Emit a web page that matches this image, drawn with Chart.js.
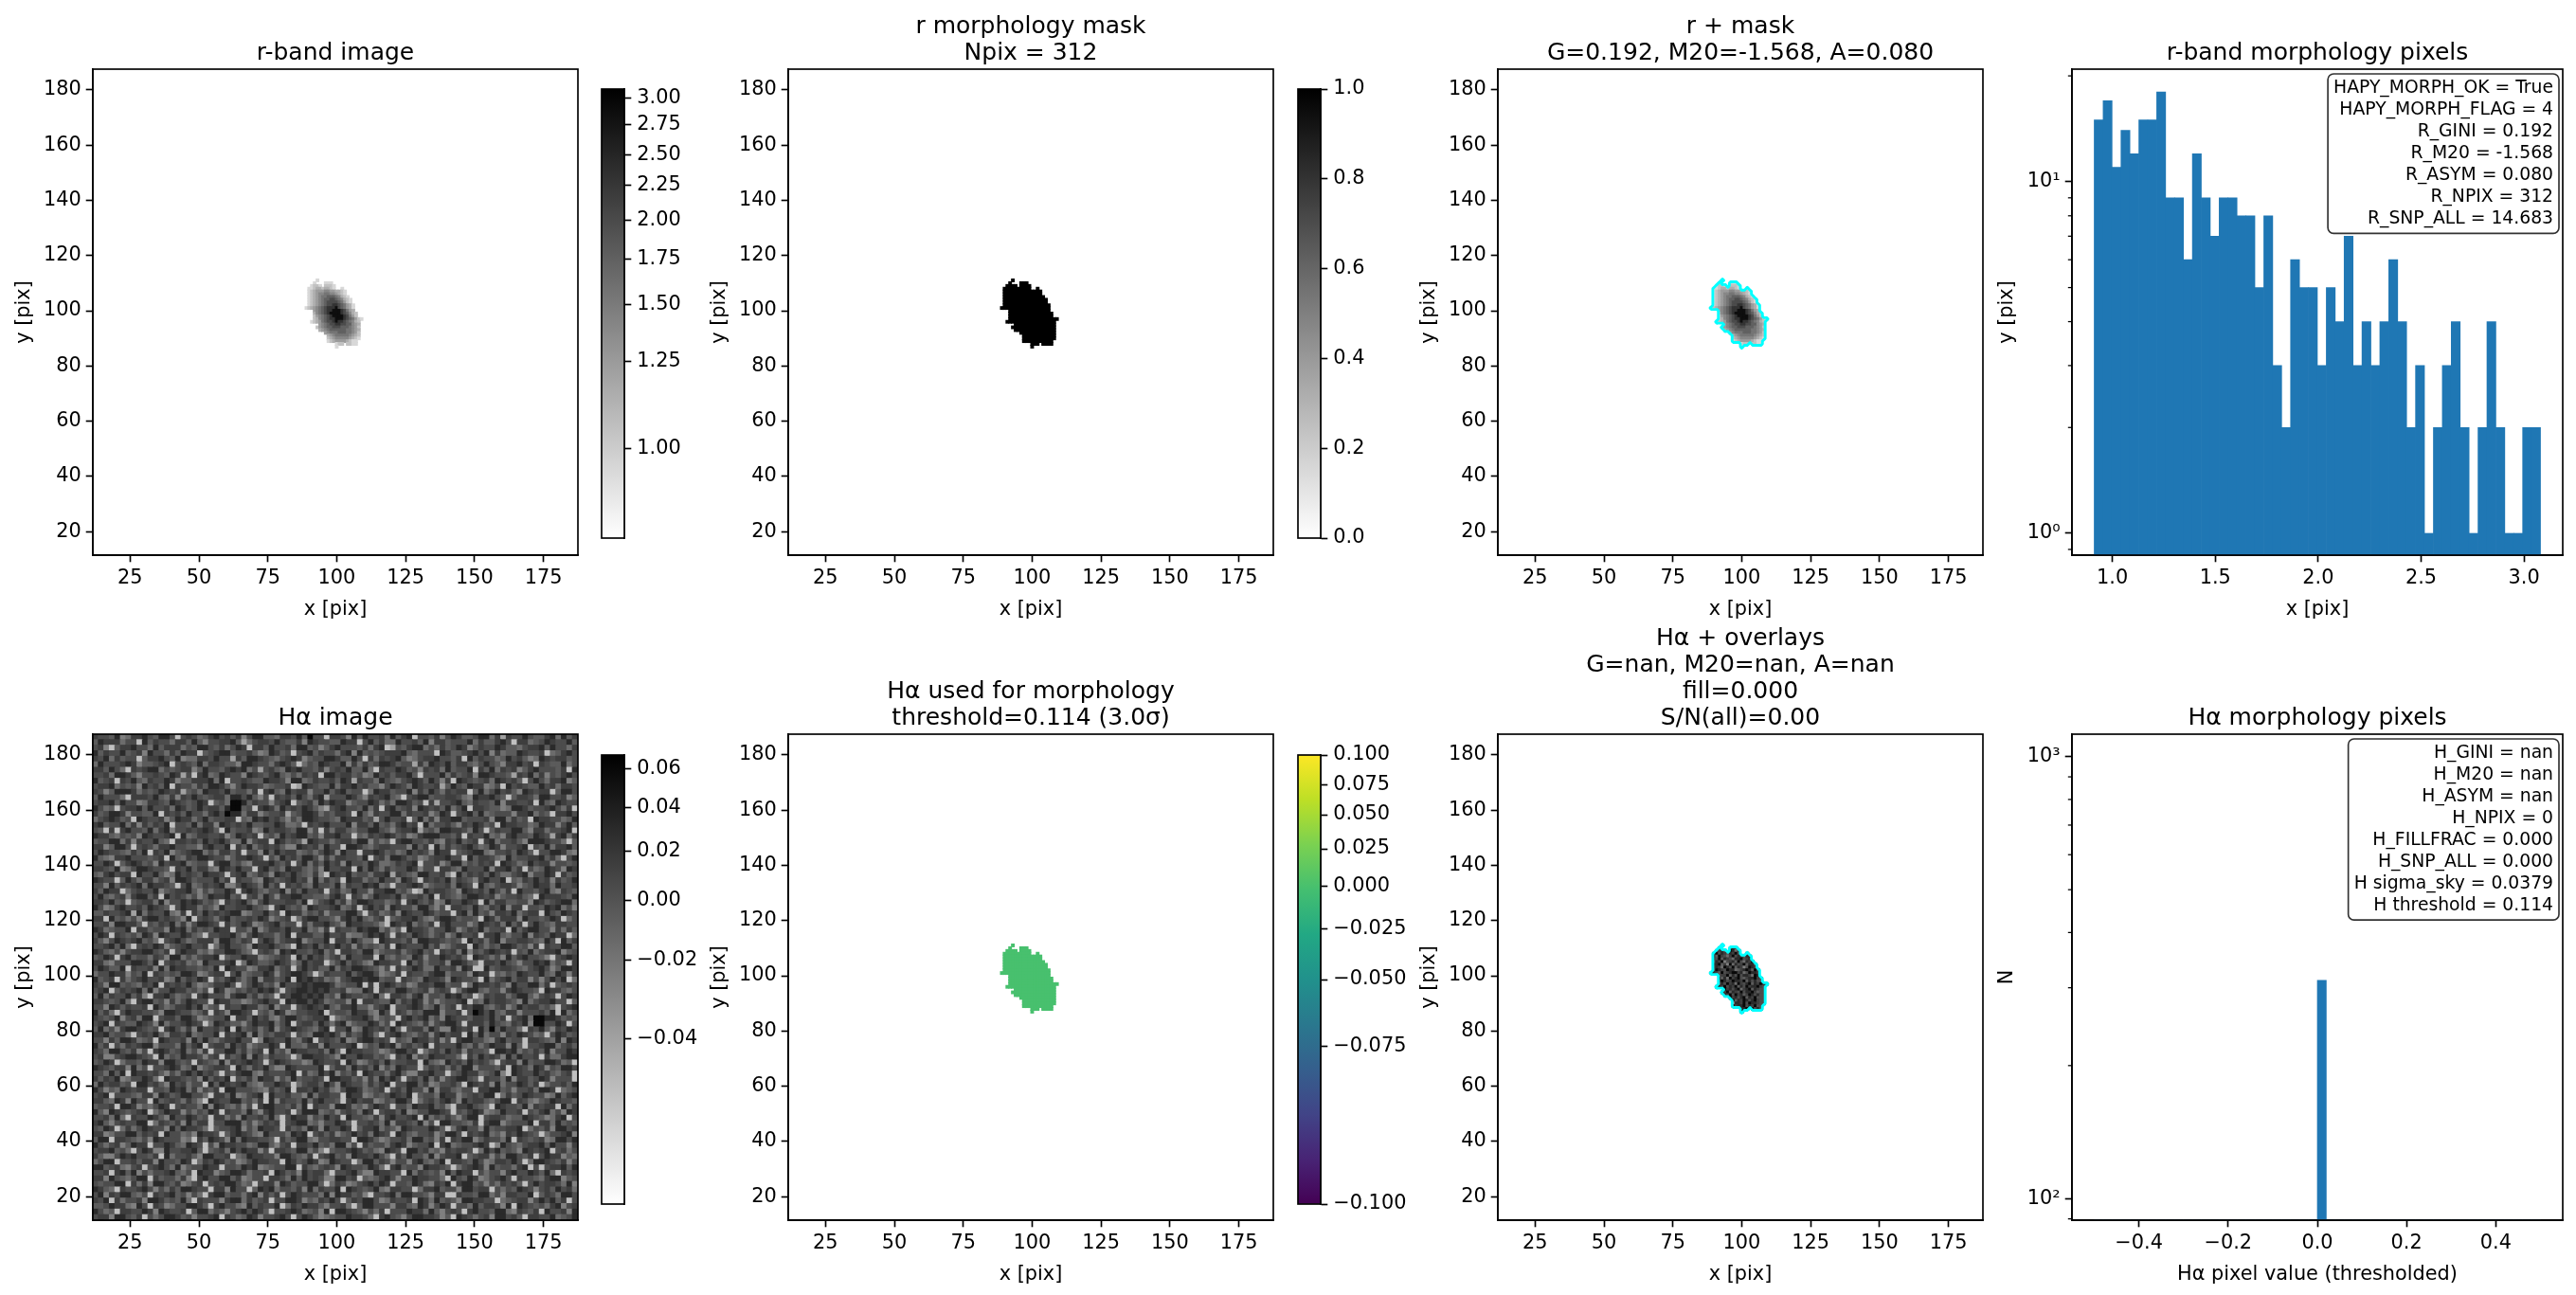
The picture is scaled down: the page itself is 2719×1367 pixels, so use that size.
<!DOCTYPE html>
<html>
<head>
<meta charset="utf-8">
<script src="https://cdn.jsdelivr.net/npm/chart.js@4"></script>
<style>
html, body { margin: 0; padding: 0; background: #fff; overflow: hidden; width: 2719px; height: 1367px; }
canvas { position: absolute; }
</style>
</head>
<body>
<script>
// histogram counts
const rHistCounts = [15,17,11,14,12,15,15,18,9,9,6,12,9,7,9,9,8,8,5,8,3,2,6,5,5,3,5,4,7,3,4,3,4,6,4,2,3,1,2,3,4,2,1,2,4,2,1,1,2,2];
const rHistStart = 0.912;
const rHistBinWidth = 0.04336;
const haHistCounts = [0,0,0,0,0,0,0,0,0,0,0,0,0,0,0,0,0,0,0,0,0,0,0,0,0,312,0,0,0,0,0,0,0,0,0,0,0,0,0,0,0,0,0,0,0,0,0,0,0,0];
const haHistStart = -0.5;
const haHistBinWidth = 0.02;

// tick labels
const imageXTicks = [25,50,75,100,125,150,175];
const imageYTicks = [20,40,60,80,100,120,140,160,180];
const rHistXTicks = [1.0,1.5,2.0,2.5,3.0];
const haHistXTicks = [-0.4,-0.2,0.0,0.2,0.4];

// colourbar ticks: value, position along the bar (0 bottom, 1 top)
const rCbarLabels = ['1.00','1.25','1.50','1.75','2.00','2.25','2.50','2.75','3.00'];
const rCbarValues = [1.0,1.25,1.5,1.75,2.0,2.25,2.5,2.75,3.0];
const rCbarPos = [0.2,0.393,0.52,0.621,0.707,0.785,0.854,0.921,0.98];
const maskCbarLabels = ['0.0','0.2','0.4','0.6','0.8','1.0'];
const maskCbarPos = [0,0.2,0.4,0.6,0.8,1];
const haCbarLabels = ['−0.04','−0.02','0.00','0.02','0.04','0.06'];
const haCbarValues = [-0.04,-0.02,0,0.02,0.04,0.06];
const haCbarPos = [0.369,0.544,0.676,0.786,0.883,0.97];
const usedCbarLabels = ['−0.100','−0.075','−0.050','−0.025','0.000','0.025','0.050','0.075','0.100'];
const usedCbarPos = [0,0.352,0.5,0.612,0.707,0.791,0.867,0.934,1];

// r-band source pixels, one char per pixel, rows from y=111 down to y=87, first column x=89.
// The digit indexes rLevels; a space is outside the morphology mask.
const rLevels = [0.95,1.05,1.15,1.25,1.4,1.55,1.75,2.0,2.3,2.85];
const rBandRows = [
'    0',
'   0   000',
'  0110 1110',
' 0012212210  0',
' 01233344332210',
' 01234455443210',
' 012345566654210',
' 0123456677654210',
' 0123456777765310',
' 01234567788765320',
'012345678889765320',
'   345678899987532',
'   2456789999876421',
'   1345678999987531',
'   124567889998765310',
'  012356778988765421',
'     345677887766432',
'    1345667776665431',
'     234566666655432',
'       3455566655431',
'        234555554321',
'        123444443210',
'        01233332100',
'           011 1100',
'           0'
];

// Halpha pixels, same layout as rBandRows; digit indexes haLevels
const haLevels = [-0.05,-0.04,-0.035,-0.025,-0.015,-0.005,0.005,0.015,0.03,0.06];
const haMaskRows = [
'666668666666666666666',
'666786668766666666666',
'665784698476666666666',
'669687587968866666666',
'685976479687588666666',
'676958764889678666666',
'658793678596487966666',
'678957394867958866666',
'668749869587369876666',
'659876988457898596666',
'487596789978469887666',
'666677958696887498666',
'666858497896578897666',
'666798679887958686666',
'666586978497689587986',
'665879687958697889766',
'666669786894789587666',
'666687958769688975666',
'666668796978579868666',
'666666697868958796666',
'666666669587986897666',
'666666662887969887666',
'666666669788968796666',
'666666666668898968666',
'666666666669666666666'
];

// Halpha sky field as estimated 2x2-pixel blocks, rows from y=186.5 down, first column x=12.5.
// Hand-typed approximation of the speckle, not a pixel-exact reading; digit indexes haLevels.
const haFieldRows = [
'76658347786 58860676457 86757368855 47768596607 76385866748 57806657368 75568847176 68655784857',
'58777466085 76647758536 67785146776 86557387665 58770685744 86675837756 66847557860 77456876685',
'67305778664 85777465886 57468707758 66748856357 86665747801 65788464756 87357668755 46778586647',
'85766856738 66475877056 78856675348 75606785766 47838565677 78546660875 56786837455 87667045786',
'76847566057 78658344776 86617588765 46787356688 75586074767 85346778665 70857664586 75348767756',
'48666787355 67806765847 76553887664 78750465876 68374756887 56617487685 77546865377 86707655846',
'77586407678 84656773586 65787846167 54878665736 76855840766 87563767485 66807584767 35786665708',
'66748875366 76587160784 58766387657 85464767088 67756348675 77850666847 56738876651 76847365786',
'85670768547 66873557778 48066765587 76388457667 58717664865 46787586370 87656748767 50686477835',
'67784656386 75807664758 87536877645 66701876558 47786755368 76487667158 65877346086 76558674776',
'76358887465 68767156487 76856647078 54867736685 78566048775 66837586476 77058468675 38767705886',
'58666407776 85473768656 77488685360 76758647816 66875376785 40678856677 64387786505 77648866735',
'67785866347 76587656870 56499857663 67805674868 77356687464 88756071667 85476658377 66708548766',
'86450677858 66748756867 75899560787 48676875316 78665847078 56738767584 68077655348 87566786470',
'75688736655 80767586647 86988477356 67156887465 77608537668 84766735870 67858456663 77846507786',
'46787560876 67358774685 66770548786 75364887665 48777561686 67058473778 85666738847 56087766458',
'78566847375 76806658477 38767685566 87445076786 66837758564 78670846675 37687560877 66458773685',
'65070786658 47836676787 50856673486 77658836074 77546688653 67781564887 76486057668 85377466780',
'87754656387 66780845776 67358767056 48678856377 86605476787 56347888665 70766845378 66587617847',
'56688473766 85407767586 78644836770 87565187664 67758836450 78866574376 85670784667 53888766405',
'77358860676 47786655378 66807584676 75338767486 60887546776 66385708475 67864587366 78065847785',
'68766547580 76835678846 47757066385 86774564687 38660778756 45867638770 56788436675 87506688743',
'85437786665 67085476887 66357787606 48675886374 77665806748 87563467786 60857764385 66778574068',
'66870578756 38677845660 78856437778 65706847586 73866587445 76780667358 84657670876 45867736656',
'77658346887 66507685774 38768660785 64877546386 67708586475 66873660775 48666837785 70645876387',
'54786770866 85348676587 76067845763 87686547308 76856647781 76548866730 85767586446 78366870756',
'87660586477 46738875666 85707664387 56786738475 60877465866 38750767684 76537866805 47686737568',
'66385767848 77650684576 78336876485 70767548665 83766878450 66787356674 87608546776 35687748667',
'75877046766 83567785364 66870787546 68375866706 74586637788 56401867765 38767586470 86657843765',
'68546737885 70867646358 77856067486 37788665547 86076358776 84667580765 46887673566 75408777658',
'77685605677 48366878756 40767853686 66775804678 57368876645 70786573486 68760847755 66387567884',
'86347866758 76506877465 38667786540 78656387667 84570686738 76648853607 76585476837 70665878463',
'55766781847 66843707586 76788346685 60877465736 66885067457 38766875660 78485637768 46770865876',
'77085646378 86765380676 47856676873 56704788665 37868546705 67786436887 56650874777 38665687046',
'66738877506 57684736887 60756873467 85660747786 53877665308 76846570786 66358767485 70686547766',
'87456680775 66387847565 87706648357 76866845370 76658788463 50877646687 35768466708 57886637475',
'68707656487 38766875406 67785368766 46807775586 67344687860 76587646735 86670778546 68376587704',
'75368767856 40678645777 38865760687 46778356680 77586440876 65738877656 50867478366 77654860857',
'66785840676 87356786670 47866538778 65408768576 86737565470 87666857346 77086465887 56370766885',
'87546367788 65706877453 66887540676 38786657846 07765883566 74678560767 48365787670 65846778356',
'56870785664 76388464677 80566877345 67608586746 73866770854 65487366876 75087646385 78665306787',
'77436668875 80676745386 66780487556 87635867704 68576438776 60857466738 87540776865 36687846507',
'68755807667 38487766565 80876634778 46706867558 47688765360 75687448667 38700856776 54678635887',
'46687736580 76565887346 77068456687 36788750476 66857886345 70766578846 66387705465 87668548737',
'85670746786 67348576870 65786468377 56808786745 36788788566 07654877638 76650846785 77363686804',
'76388565476 80767685345 77860468756 38667878887 45668070787 56347768856 60487767538 66884705676',
'67805767848 36687756460 87346576878 50678878786 67344870765 88656736760 47885466378 76650877546',
'58476685730 77864560786 66378857465 07688787856 38766568407 76478366587 85603767746 88536760687',
'77656840788 56374687660 87755346786 60878868745 66380776558 47687363566 78054867765 38467786605',
'66387576670 86457786835 60766877458 36606787685 47785536780 66787458467 07688546735 86775640678',
'85740687766 53887664570 76388760564 87346677805 66587743860 76465888366 70698685477 36667580846',
'76568367488 06775886345 66807758674 36886567780 45677863565 07867846387 66577685706 78499887565',
'67807655876 38466787604 87655368778 46806775864 78356687460 87654736788 60777586547 68399668706',
'58463788765 60786473866 75808567468 36787654780 66834876758 50677486338 76708595866 40768537687',
'77856640676 85377684566 80767838465 77606548878 63756874067 86546737867 70858466376 87645068756',
'66375887456 08766738585 46778660387 66854780676 58347886760 65487757360 78866437856 60776548387',
'85706476788 36664857806 77486735668 70855477386 66780465878 36756807666 85474687738 50667884675',
'76488657360 78756846370 66885746708 56387766748 50877665346 88670467586 73766508878 46575836687',
'67336788765 08465877636 70756838647 66504887765 38668775640 76836587766 40758676385 86670744788',
'56870466587 73886560765 48376787606 87655348766 70863467585 66770854386 75867640677 38566887450',
'87657738460 66787458356 77608647685 33876666805 77486758364 87660576747 58836665708 76487365886',
'66485808776 75364786867 50657884376 66780745868 36570876647 85337786605 68774568308 76686754670',
'75768346687 40877656385 76806574877 36485667608 87756374868 60675847367 88650766483 77568736660',
'48677560886 75386746608 58767854366 87604677586 38766475780 66885734667 50876738466 87570466758',
'86354876770 66587847365 70886665437 56807768674 36887456706 75866383775 46607788563 66748870456',
'67806665477 38756886640 77583467808 66755384776 60877346568 76805664877 35676880475 68766348578',
'77548738660 85676475308 76688564708 37665847866 50786773465 88604675786 38677546880 76435687665',
'56670887354 68706766483 87546360788 66574807663 88745368760 66487785630 77865408766 58376770847',
'85387656780 46877364658 70766485378 66705888456 36764870677 58346688760 65787345866 70657846387',
'66748407668 75386687560 77463866758 40687736586 70866547378 66780846575 36880677645 58765347806',
'78536766880 47657385770 66888463576 70678845366 87506676483 77658360886 65470788356 66807748565',
'65870474687 66385877640 56678364877 60756487386 68705778465 38766687504 78663856677 80465738867',
'77346688576 70866453877 60578764386 66487806757 35686748760 87546673588 60767845376 87650466783',
'58807765463 87666340758 76384877665 07568843667 76608875346 67488563707 68835766480 76567348868',
'86467358770 66875487606 38776645885 36707768564 88360756647 87356680784 56678703865 46778586637',
'67785640687 33866778505 67486877360 77658846305 66787564387 60886745376 77604868565 38767806746',
'75336878665 70846675388 66704587766 38865470678 56387768640 75866483677 80567736488 65706877354',
'46880667577 38665870476 87563468776 60875687348 76604885763 66378546807 76586347768 60488765736',
'88567436706 78648356687 70665878345 66880754676 38766587407 85663877650 46787385664 78060677858',
'66707858364 66785460877 35688746670 87563867740 66785338776 60847656385 87706466378 66875840767',
'77386546880 75664730786 68857346607 76485867633 88670545786 36687766408 65873467860 76654788356',
'65668807473 88657346706 76886450677 38756688504 76346786870 66587437680 78856364767 50686776483',
'87540766786 36475887660 77386605878 46657384766 80876568437 76604778566 38867706465 87636758674',
'68376885460 76785636407 88566478375 70687666483 87756306678 48866537700 76658846377 66805764886',
'76807466738 87565840766 63788475670 66887354768 60576886347 66708748565 38877660456 77368685706',
'55687743860 76346688750 78664385766 80476877536 67405886663 77548736870 66485776380 87656478367',
'86450776687 38766705884 65367868750 66787456380 88765364706 66877485367 60786658843 76570866738',
'67738865706 46887563667 80764587366 78606875345 66877640786 53688776350 87646738867 50776684568',
'78566340878 66705487386 76680855743 66387760584 76658347806 77463868765 30687758664 78356067886'
];

const viridisStops = ['#440154','#482475','#414487','#355f8d','#2a788e','#21918c','#22a884','#44bf70','#7ad151','#bddf26','#fde725'];

// axes boxes in page pixels
const colLeft = [98, 832, 1581, 2187];
const colWidth = [512, 512, 512, 518];
const rowTop = [73, 775];
const rowHeight = 513;
const sidePad = 90;
const bottomPad = 70;
const black = '#000';

Chart.defaults.font.family = '"DejaVu Sans"';
Chart.defaults.color = black;

// piecewise colour normalisation taken from the colourbar ticks
function interp(v, xs, ys) {
    if (v <= xs[0]) return ys[0];
    for (let i = 1; i < xs.length; i++) {
        if (v <= xs[i]) return ys[i - 1] + (v - xs[i - 1]) / (xs[i] - xs[i - 1]) * (ys[i] - ys[i - 1]);
    }
    return ys[ys.length - 1];
}
const rNorm = v => interp(v, [0.78].concat(rCbarValues, [3.08]), [0].concat(rCbarPos, [1]));
const haNorm = v => interp(v, [-0.07].concat(haCbarValues, [0.068]), [0].concat(haCbarPos, [1]));
function gray(n) {
    const g = Math.round(255 * (1 - n));
    return `rgb(${g},${g},${g})`;
}
function hexToRgb(h) {
    return [1, 3, 5].map(i => parseInt(h.substr(i, 2), 16));
}
function viridisAt(n) {
    const p = n * (viridisStops.length - 1);
    const i = Math.min(Math.floor(p), viridisStops.length - 2);
    const a = hexToRgb(viridisStops[i]);
    const b = hexToRgb(viridisStops[i + 1]);
    const c = a.map((v, k) => Math.round(v + (b[k] - v) * (p - i)));
    return `rgb(${c[0]},${c[1]},${c[2]})`;
}

function sourceCells(colorOf) {
    const pts = [];
    const colors = [];
    rBandRows.forEach((row, j) => {
        for (let i = 0; i < row.length; i++) {
            if (row[i] === ' ') continue;
            pts.push({ x: 89 + i, y: 111 - j });
            colors.push(colorOf(row[i], i, j));
        }
    });
    return { pts, colors };
}

function cellDataset(cells, radius) {
    return {
        data: cells.pts,
        pointStyle: 'rect',
        pointRadius: radius,
        pointBorderWidth: 0,
        pointBackgroundColor: cells.colors,
        showLine: false,
        clip: 0
    };
}

// marching squares round the mask, at the half level
function maskContour() {
    const m = (x, y) => {
        const row = rBandRows[111 - y];
        const c = row ? row[x - 89] : undefined;
        return c !== undefined && c !== ' ';
    };
    const out = [];
    for (let x = 87; x <= 111; x++) {
        for (let y = 85; y <= 112; y++) {
            const a = m(x, y), b = m(x + 1, y), c = m(x + 1, y + 1), d = m(x, y + 1);
            const mids = [];
            if (a !== b) mids.push({ x: x + 0.5, y: y });
            if (b !== c) mids.push({ x: x + 1, y: y + 0.5 });
            if (c !== d) mids.push({ x: x + 0.5, y: y + 1 });
            if (d !== a) mids.push({ x: x, y: y + 0.5 });
            for (let k = 0; k + 1 < mids.length; k += 2) {
                out.push(mids[k], mids[k + 1], { x: null, y: null });
            }
        }
    }
    return out;
}

function contourDataset() {
    return {
        data: maskContour(),
        showLine: true,
        spanGaps: false,
        pointRadius: 0,
        borderColor: '#00ffff',
        borderWidth: 2.9,
        borderCapStyle: 'round',
        tension: 0,
        clip: 0
    };
}

// spines, minor log ticks and the stats box
const panelExtras = {
    id: 'panelExtras',
    afterDraw(chart, args, opts) {
        const ctx = chart.ctx;
        const a = chart.chartArea;
        ctx.save();
        ctx.strokeStyle = black;
        ctx.lineWidth = 1.67;
        ctx.strokeRect(a.left, a.top, a.right - a.left, a.bottom - a.top);
        if (opts.minor) {
            ctx.lineWidth = 1.25;
            opts.minor.forEach(v => {
                const y = chart.scales.y.getPixelForValue(v);
                ctx.beginPath();
                ctx.moveTo(a.left, y);
                ctx.lineTo(a.left - 4.2, y);
                ctx.stroke();
            });
        }
        if (opts.box) {
            const lh = 22.9;
            ctx.font = '18.75px "DejaVu Sans"';
            const tw = Math.max(...opts.box.map(s => ctx.measureText(s).width));
            const right = a.right - 4;
            const w = tw + 12;
            const h = opts.box.length * lh + 8;
            const top = a.top + 5;
            ctx.beginPath();
            ctx.roundRect(right - w, top, w, h, 6);
            ctx.fillStyle = '#fff';
            ctx.fill();
            ctx.strokeStyle = '#333';
            ctx.lineWidth = 1.67;
            ctx.stroke();
            ctx.fillStyle = black;
            ctx.textAlign = 'right';
            ctx.textBaseline = 'middle';
            opts.box.forEach((s, i) => ctx.fillText(s, right - 6, top + 4 + lh * (i + 0.5)));
        }
        ctx.restore();
    }
};

function addCanvas(left, top, w, h) {
    const c = document.createElement('canvas');
    c.width = w;
    c.height = h;
    c.style.left = left + 'px';
    c.style.top = top + 'px';
    c.style.width = w + 'px';
    c.style.height = h + 'px';
    document.body.appendChild(c);
    return c.getContext('2d');
}

function gridOpts() {
    return { display: true, drawOnChartArea: false, drawTicks: true, tickLength: 7.3, tickWidth: 1.67, tickColor: black };
}

function tickFont() {
    return { size: 20.83 };
}

function axis(cfg, fitKey, fitSize, labelPad) {
    return {
        type: cfg.type || 'linear',
        min: cfg.min,
        max: cfg.max,
        bounds: 'data',
        offset: false,
        grid: Object.assign(gridOpts(), { offset: false }),
        border: { display: true, color: black, width: 1.67 },
        title: { display: true, text: cfg.label, color: black, font: { size: 20.83 }, padding: { top: labelPad, bottom: 0 } },
        ticks: {
            autoSkip: false, maxRotation: 0, minRotation: 0, padding: 5, color: black, font: tickFont(),
            callback: cfg.format
        },
        afterBuildTicks: s => { s.ticks = cfg.ticks.map(v => ({ value: v })); },
        afterFit: s => { s[fitKey] = fitSize; }
    };
}

function panel(col, row, title, type, datasets, xCfg, yCfg, extras, yLabelPad) {
    const w = colWidth[col];
    const padTop = row === 0 ? rowTop[0] : 135;
    const ctx = addCanvas(colLeft[col] - sidePad, rowTop[row] - padTop, w + 2 * sidePad, padTop + rowHeight + bottomPad);
    const lines = Array.isArray(title) ? title : [title];
    new Chart(ctx, {
        type: type,
        data: { datasets: datasets },
        options: {
            responsive: false,
            animation: false,
            events: [],
            devicePixelRatio: 1,
            plugins: {
                legend: { display: false },
                tooltip: { enabled: false },
                title: {
                    display: true, text: lines, color: black,
                    font: { size: 25, weight: 'normal', lineHeight: 1.12 },
                    padding: { top: padTop - lines.length * 28 - 2.5, bottom: 2.5 }
                },
                panelExtras: extras || {}
            },
            scales: {
                x: axis(xCfg, 'height', bottomPad, 10.5),
                y: axis(yCfg, 'width', sidePad, yLabelPad),
                // empty box on the right so the title centres on the axes
                rightGap: {
                    axis: 'y', position: 'right', display: true,
                    grid: { display: false }, border: { display: false }, ticks: { display: false },
                    afterFit: s => { s.width = sidePad; }
                }
            }
        },
        plugins: [panelExtras]
    });
}

function colorbar(left, right, top, bottom, stops, positions, labels) {
    const ctx = addCanvas(left - 30, top - 30, right - left + 130, bottom - top + 60);
    new Chart(ctx, {
        type: 'bar',
        data: {
            labels: ['c'],
            datasets: [{
                data: [[0, 1]],
                categoryPercentage: 1,
                barPercentage: 1,
                borderWidth: 0,
                backgroundColor: c => {
                    const a = c.chart.chartArea;
                    if (!a) return '#888';
                    const g = c.chart.ctx.createLinearGradient(0, a.bottom, 0, a.top);
                    stops.forEach((s, i) => g.addColorStop(i / (stops.length - 1), s));
                    return g;
                }
            }]
        },
        options: {
            responsive: false,
            animation: false,
            events: [],
            devicePixelRatio: 1,
            layout: { padding: { left: 30, right: 0, top: 30, bottom: 30 } },
            plugins: { legend: { display: false }, tooltip: { enabled: false }, panelExtras: {} },
            scales: {
                x: { display: false },
                y: {
                    position: 'right',
                    min: 0,
                    max: 1,
                    bounds: 'data',
                    grid: gridOpts(),
                    border: { display: true, color: black, width: 1.67 },
                    ticks: {
                        autoSkip: false, maxRotation: 0, minRotation: 0, padding: 6, color: black, font: tickFont(),
                        callback: (v, i) => labels[i]
                    },
                    afterBuildTicks: s => { s.ticks = positions.map(v => ({ value: v })); },
                    afterFit: s => { s.width = 100; }
                }
            }
        },
        plugins: [panelExtras]
    });
}

const imgX = { min: 11.5, max: 187.5, ticks: imageXTicks, label: 'x [pix]', format: v => String(v) };
const imgY = { min: 11.5, max: 187.5, ticks: imageYTicks, label: 'y [pix]', format: v => String(v) };
const cellRadius = (512 / 176 + 1) * Math.SQRT1_2;

const rBandCells = () => sourceCells(c => gray(rNorm(rLevels[+c])));
const haCells = () => sourceCells((c, i, j) => gray(haNorm(haLevels[+haMaskRows[j][i]])));
const maskCells = () => sourceCells(() => gray(1));
const usedCells = () => sourceCells(() => viridisAt(usedCbarPos[4]));

function haFieldCells() {
    const pts = [];
    const colors = [];
    haFieldRows.forEach((raw, j) => {
        const row = raw.replace(/ /g, '');
        for (let i = 0; i < row.length; i++) {
            pts.push({ x: 12.5 + 2 * i, y: 186.5 - 2 * j });
            colors.push(gray(haNorm(haLevels[+row[i]])));
        }
    });
    return { pts, colors };
}

function histDataset(counts, start, width) {
    return {
        data: counts.map((n, i) => ({ x: start + (i + 0.5) * width, y: n })),
        backgroundColor: '#1f77b4',
        borderWidth: 0,
        barPercentage: 1,
        categoryPercentage: 1
    };
}

const logLabel = v => ({ 1: '10⁰', 10: '10¹', 100: '10²', 1000: '10³' }[v]);
const minusFixed = v => v.toFixed(1).replace('-', '−');

panel(0, 0, 'r-band image', 'scatter', [cellDataset(rBandCells(), cellRadius)], imgX, imgY, null, 5.5);
panel(1, 0, ['r morphology mask', 'Npix = 312'], 'scatter', [cellDataset(maskCells(), cellRadius)], imgX, imgY, null, 5.5);
panel(2, 0, ['r + mask', 'G=0.192, M20=-1.568, A=0.080'], 'scatter', [contourDataset(), cellDataset(rBandCells(), cellRadius)], imgX, imgY, null, 5.5);
panel(3, 0, 'r-band morphology pixels', 'bar', [histDataset(rHistCounts, rHistStart, rHistBinWidth)],
    { min: 0.804, max: 3.188, ticks: rHistXTicks, label: 'x [pix]', format: minusFixed },
    { type: 'logarithmic', min: 0.867, max: 20.9, ticks: [1, 10], label: 'y [pix]', format: logLabel },
    {
        minor: [0.9, 2, 3, 4, 5, 6, 7, 8, 9, 20],
        box: ['HAPY_MORPH_OK = True', 'HAPY_MORPH_FLAG = 4', 'R_GINI = 0.192', 'R_M20 = -1.568', 'R_ASYM = 0.080', 'R_NPIX = 312', 'R_SNP_ALL = 14.683']
    }, 9);

panel(0, 1, 'Hα image', 'scatter', [cellDataset(haFieldCells(), (2 * 512 / 176 + 1) * Math.SQRT1_2)], imgX, imgY, null, 5.5);
panel(1, 1, ['Hα used for morphology', 'threshold=0.114 (3.0σ)'], 'scatter', [cellDataset(usedCells(), cellRadius)], imgX, imgY, null, 5.5);
panel(2, 1, ['Hα + overlays', 'G=nan, M20=nan, A=nan', 'fill=0.000', 'S/N(all)=0.00'], 'scatter', [contourDataset(), cellDataset(haCells(), cellRadius)], imgX, imgY, null, 5.5);
panel(3, 1, 'Hα morphology pixels', 'bar', [histDataset(haHistCounts, haHistStart, haHistBinWidth)],
    { min: -0.55, max: 0.55, ticks: haHistXTicks, label: 'Hα pixel value (thresholded)', format: minusFixed },
    { type: 'logarithmic', min: 89.4, max: 1124, ticks: [100, 1000], label: 'N', format: logLabel },
    {
        minor: [90, 200, 300, 400, 500, 600, 700, 800, 900],
        box: ['H_GINI = nan', 'H_M20 = nan', 'H_ASYM = nan', 'H_NPIX = 0', 'H_FILLFRAC = 0.000', 'H_SNP_ALL = 0.000', 'H sigma_sky = 0.0379', 'H threshold = 0.114']
    }, 9);

const grayBar = ['#ffffff', '#000000'];
colorbar(635, 659, 94, 568, grayBar, rCbarPos, rCbarLabels);
colorbar(1370, 1394, 94, 568, grayBar, maskCbarPos, maskCbarLabels);
colorbar(635, 659, 797, 1271, grayBar, haCbarPos, haCbarLabels);
colorbar(1370, 1394, 797, 1271, viridisStops, usedCbarPos, usedCbarLabels);
</script>
</body>
</html>
